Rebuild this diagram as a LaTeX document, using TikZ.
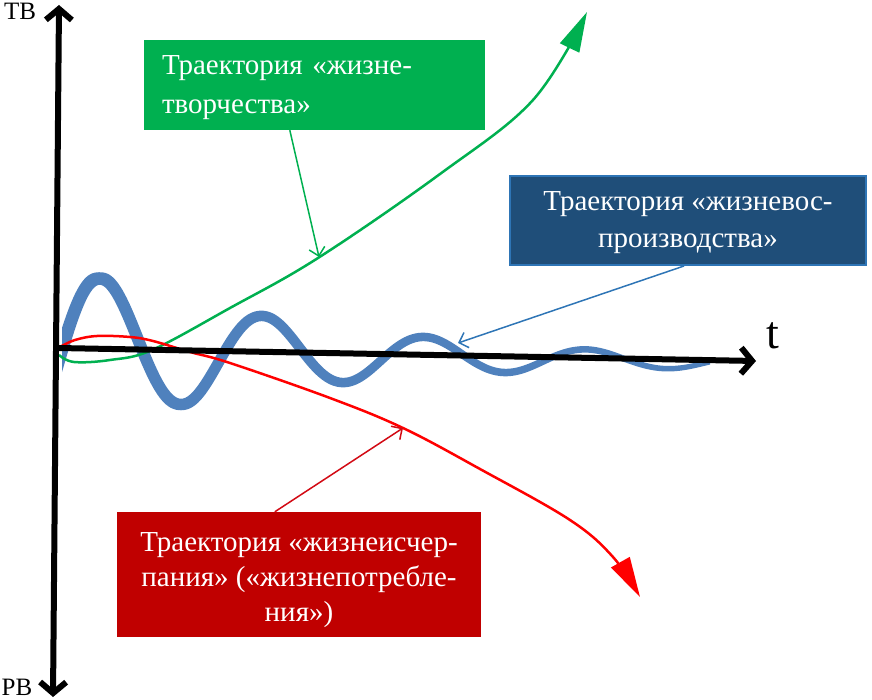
\documentclass[tikz,border=0pt]{standalone}
\usepackage{fontspec}
\setmainfont{Liberation Serif}
\usetikzlibrary{arrows.meta,calc}
\definecolor{wavec}{RGB}{79,129,189}
\definecolor{grn}{RGB}{0,176,80}
\definecolor{dblue}{RGB}{31,78,121}
\definecolor{lblue}{RGB}{46,117,182}
\definecolor{dred}{RGB}{192,0,0}
\definecolor{cred}{RGB}{255,0,0}
\definecolor{conred}{RGB}{210,10,20}
\begin{document}
\begin{tikzpicture}[x=1pt,y=-1pt,
  declare function={
    wa(\x)=72*exp(-0.004*(\x-102));
    wb(\x)=350+(\x-60)*0.0185;
    ws(\x)=sin(2.222222*(\x-62));
    wc(\x)=cos(2.222222*(\x-62));
    wy(\x)=wb(\x)-wa(\x)*ws(\x);
    wd(\x)=0.0185+0.004*wa(\x)*ws(\x)-wa(\x)*0.038785*wc(\x);
    wh(\x)=(6.5-4*(\x-62)/648)*sqrt(1+wd(\x)*wd(\x));
  },
  axisline/.style={line width=6pt, black},
  axtip/.tip={Straight Barb[length=11pt,width=26pt]},
  curvetip/.tip={Triangle[length=40pt,width=21pt]},
  contip/.tip={Straight Barb[length=8pt,width=16pt]},
  curve/.style={line width=2.5pt},
  conn/.style={line width=1.5pt, -contip},
  box/.style={rectangle, inner sep=0pt},
  boxtext/.style={inner sep=0pt, text=white, font=\fontsize{29}{35}\selectfont},
  lbl/.style={inner sep=0pt, anchor=base, font=\fontsize{25}{25}\selectfont}
]
\useasboundingbox (0,0) rectangle (872,700);

% damped oscillation
\fill[wavec] plot[domain=62:710, samples=300, variable=\x] (\x,{wy(\x)-wh(\x)})
  -- plot[domain=710:62, samples=300, variable=\x] (\x,{wy(\x)+wh(\x)}) -- cycle;

% green curve
\draw[grn, curve, -curvetip] plot[smooth, tension=0.6] coordinates
  {(59,355) (74,362) (110,360) (152,350) (230,308) (318,258) (440,174) (533,100) (587,12)};

% red curve
\draw[cred, curve, -curvetip] plot[smooth, tension=0.6] coordinates
  {(60,347) (75,340) (97,336) (130,337) (153,341) (190,352) (230,363) (330,398) (403,428) (480,469) (570,520) (613,557) (640,597)};

% axes
\coordinate (vtop) at (59,5);
\coordinate (vbot) at (53,697);
\coordinate (h0) at (58,348);
\coordinate (h1) at (756,361);
\draw[axisline, axtip-axtip] (vbot) -- (vtop);
\draw[axisline, -axtip] (h0) -- (h1);

\node[lbl] (tv) at (20,20) {ТВ};
\node[lbl] (rv) at (17,695) {РВ};
\node[inner sep=0pt, anchor=base, font=\fontsize{46}{46}\selectfont] (tl) at (773,348) {t};

% boxes
\node[box, fill=grn, minimum width=341pt, minimum height=90pt] (gbox) at (314.5,85) {};
\node[boxtext, text width=305pt, align=left] (gtxt) at ($(gbox.center)+(0,3)$) {Траектория «жизне-\\[4pt]творчества»};
\node[box, fill=dblue, draw=lblue, line width=2pt, minimum width=356pt, minimum height=89pt] (bbox) at (688,220.5) {};
\node[boxtext, align=center] (btxt) at ($(bbox.center)+(0,2)$) {Траектория «жизневос-\\[2pt]производства»};
\node[box, fill=dred, minimum width=364pt, minimum height=125pt] (rbox) at (299,574.5) {};
\node[boxtext, align=center] (rtxt) at ($(rbox.center)+(0,6)$) {Траектория «жизнеисчер-\\пания» («жизнепотребле-\\ния»)};

% connectors
\coordinate (gpt) at (319,257);
\coordinate (bpt) at (458,343);
\coordinate (rpt) at (403,428);
\draw[conn, grn] ($(gbox.south west)+(146,0)$) -- (gpt);
\draw[conn, lblue] ($(bbox.south west)+(175,0)$) -- (bpt);
\draw[conn, conred] ($(rbox.north west)+(158,0)$) -- (rpt);
\end{tikzpicture}
\end{document}
